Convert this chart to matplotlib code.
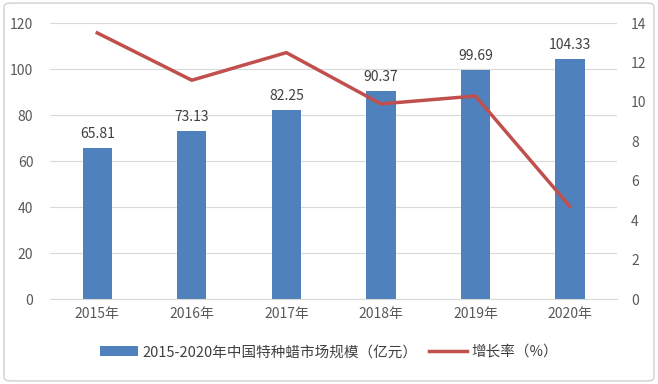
import matplotlib.pyplot as plt
from matplotlib.patches import FancyBboxPatch

plt.rcParams['font.family'] = ['Noto Sans CJK SC', 'DejaVu Sans']

years = ['2015年', '2016年', '2017年', '2018年', '2019年', '2020年']
market = [65.81, 73.13, 82.25, 90.37, 99.69, 104.33]
growth = [13.5, 11.1, 12.5, 9.9, 10.3, 4.7]

bar_label = '2015-2020年中国特种蜡市场规模（亿元）'
line_label = '增长率（%）'

fig = plt.figure(figsize=(6.58, 3.84), dpi=100)
# outer border
fig.patches.append(FancyBboxPatch((0.006, 0.008), 0.988, 0.984, boxstyle='round,pad=0,rounding_size=0.01',
                                  transform=fig.transFigure, fill=False, edgecolor='#d0d0d0', lw=1))

ax = fig.add_axes([0.076, 0.221, 0.862, 0.719])
x = range(len(years))
ax.bar(x, market, width=0.31, color='#4f81bd', label=bar_label, zorder=2)
for xi, v in zip(x, market):
    ax.text(xi, v + 3, f'{v:.2f}', ha='center', va='bottom', fontsize=10, color='#404040')

ax.set_ylim(0, 120)
ax.set_yticks(range(0, 121, 20))
ax.set_xlim(-0.5, len(years) - 0.5)
ax.set_xticks(list(x))
ax.set_xticklabels(years)
ax.grid(axis='y', color='#d9d9d9', lw=0.8, zorder=0)
for s in ['top', 'right', 'left']:
    ax.spines[s].set_visible(False)
ax.spines['bottom'].set_color('#d9d9d9')
ax.tick_params(length=0, labelsize=10, labelcolor='#595959')
ax.tick_params(axis='x', pad=6)
ax.tick_params(axis='y', pad=12)

ax2 = ax.twinx()
ax2.plot(list(x), growth, color='#c0504d', lw=2.5, label=line_label, zorder=3)
ax2.set_ylim(0, 14)
ax2.set_yticks(range(0, 15, 2))
for s in ax2.spines.values():
    s.set_visible(False)
ax2.tick_params(length=0, labelsize=10, labelcolor='#595959', pad=10)

h1, l1 = ax.get_legend_handles_labels()
h2, l2 = ax2.get_legend_handles_labels()
fig.legend(h1 + h2, l1 + l2, loc='center', bbox_to_anchor=(0.5, 0.083), ncol=2, frameon=False,
           fontsize=10.5, labelcolor='#404040', handlelength=2.6, columnspacing=0.8, handletextpad=0.3)

fig.savefig('out.png', dpi=100)
